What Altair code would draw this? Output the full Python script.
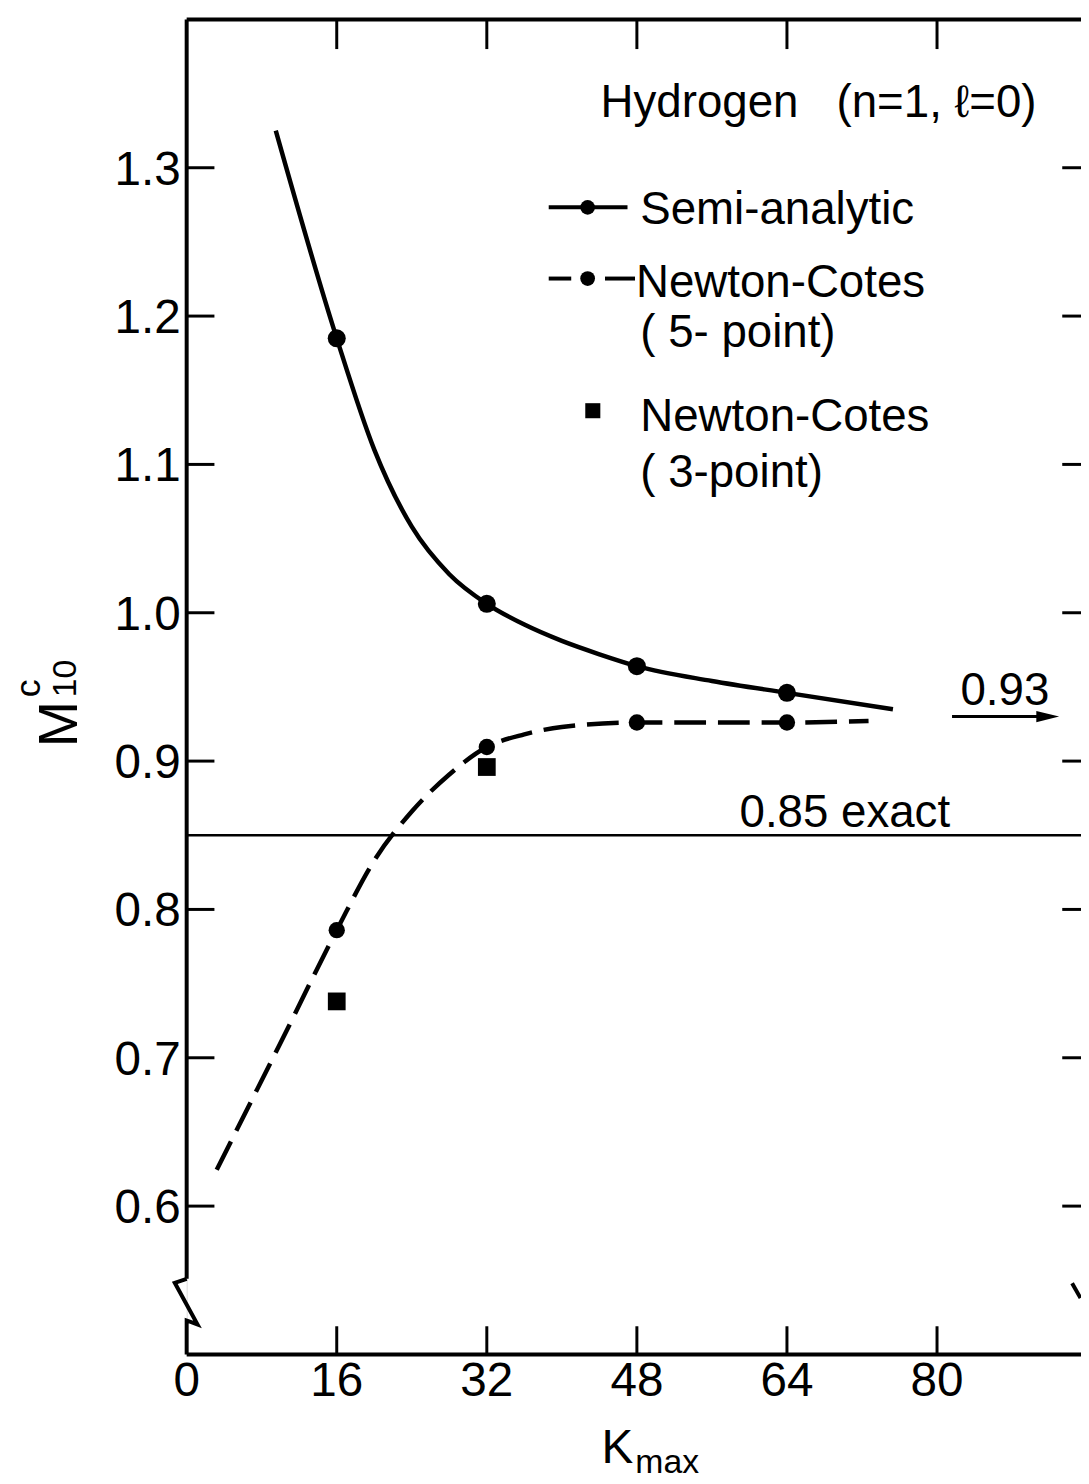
import altair as alt
import pandas as pd

FONT = "Liberation Sans, Arial, DejaVu Sans, sans-serif"

# ---------------- data ----------------
x_ticks = [0, 16, 32, 48, 64, 80]
y_ticks = [0.6, 0.7, 0.8, 0.9, 1.0, 1.1, 1.2, 1.3]

# Semi-analytic (solid line with dots)
semi_k = [16, 32, 48, 64]
semi_m = [1.185, 1.006, 0.964, 0.946]
semi_curve_k = [9.5, 16, 20, 24, 28, 32, 36, 40, 44, 48, 56, 64, 75.3]
semi_curve_m = [1.325, 1.185, 1.110, 1.058, 1.026, 1.006, 0.992, 0.981, 0.972, 0.964, 0.954, 0.946, 0.935]

# Newton-Cotes 5-point (dashed line with dots)
nc5_k = [16, 32, 48, 64]
nc5_m = [0.786, 0.9095, 0.926, 0.926]
nc5_curve_k = [3.2, 10, 16, 20, 24, 28, 32, 36, 40, 48, 64, 72.7]
nc5_curve_m = [0.6245, 0.710, 0.786, 0.833, 0.866, 0.891, 0.9095, 0.918, 0.923, 0.926, 0.926, 0.927]

# Newton-Cotes 3-point (squares)
nc3_k = [16, 32]
nc3_m = [0.738, 0.896]

exact_value = 0.85
limit_value = 0.93

title_text = "Hydrogen\u00a0\u00a0\u00a0(n=1, \u2113=0)"
legend_labels = ["Semi-analytic", "Newton-Cotes", "( 5- point)", "Newton-Cotes", "( 3-point)"]
exact_label = "0.85 exact"
limit_label = "0.93"

# ---------------- layout constants ----------------
XMAX = 95.35
YMIN, YMAX = 0.5, 1.4
W, H = 901, 1345

xs = alt.Scale(domain=[0, XMAX], nice=False, zero=False)
ys = alt.Scale(domain=[YMIN, YMAX], nice=False, zero=False)


def X(f):
    return alt.X(f"{f}:Q", scale=xs, axis=None)


def Y(f):
    return alt.Y(f"{f}:Q", scale=ys, axis=None)


def rules(df, width=4):
    return alt.Chart(df).mark_rule(color="black", strokeWidth=width, strokeCap="butt").encode(
        x=X("x"), x2=alt.X2("x2"), y=Y("y"), y2=alt.Y2("y2")
    )


# ---------------- axes frame ----------------
frame = pd.DataFrame([
    {"x": 0, "x2": XMAX, "y": YMAX, "y2": YMAX},      # top
    {"x": 0, "x2": XMAX, "y": YMIN, "y2": YMIN},      # bottom
    {"x": 0, "x2": 0, "y": 0.551, "y2": YMAX},        # left (above break)
])
frame_layer = rules(frame, 4)

brk = pd.DataFrame({
    "x": [0, 0, 1.16, -1.27, 0],
    "y": [YMIN, 0.5229, 0.5202, 0.5483, 0.5510],
    "o": [0, 1, 2, 3, 4],
})
brk_layer = alt.Chart(brk).mark_line(color="black", strokeWidth=4, strokeJoin="miter").encode(
    x=X("x"), y=Y("y"), order="o:Q"
)
rbrk = pd.DataFrame([{"x": 94.4, "x2": 95.3, "y": 0.548, "y2": 0.538}])
rbrk_layer = rules(rbrk, 4)

tick_rows = []
for v in y_ticks:
    tick_rows.append({"x": 0, "x2": 2.96, "y": v, "y2": v})
    tick_rows.append({"x": XMAX - 2.0, "x2": XMAX, "y": v, "y2": v})
for v in x_ticks[1:]:
    tick_rows.append({"x": v, "x2": v, "y": YMAX, "y2": YMAX - 0.020})
    tick_rows.append({"x": v, "x2": v, "y": YMIN, "y2": YMIN + 0.019})
ticks_layer = rules(pd.DataFrame(tick_rows), 3)

ylab = pd.DataFrame({"x": [0] * len(y_ticks), "y": y_ticks, "t": [f"{v:.1f}" for v in y_ticks]})
ylab_layer = alt.Chart(ylab).mark_text(
    font=FONT, fontSize=48, align="right", baseline="alphabetic", dx=-6, dy=17, color="black"
).encode(x=X("x"), y=Y("y"), text="t:N")

xlab = pd.DataFrame({"x": x_ticks, "y": [YMIN] * len(x_ticks), "t": [str(v) for v in x_ticks]})
xlab_layer = alt.Chart(xlab).mark_text(
    font=FONT, fontSize=48, align="center", baseline="alphabetic", dy=42, color="black"
).encode(x=X("x"), y=Y("y"), text="t:N")

# axis titles (M^c_10 and K_max)
ytitle_layer = (
    alt.Chart(pd.DataFrame({"t": ["M"]})).mark_text(
        font=FONT, fontSize=56, angle=270, align="center", baseline="alphabetic", color="black"
    ).encode(x=alt.value(-110), y=alt.value(710), text="t:N")
    + alt.Chart(pd.DataFrame({"t": ["10"]})).mark_text(
        font=FONT, fontSize=34, angle=270, align="center", baseline="alphabetic", color="black"
    ).encode(x=alt.value(-111), y=alt.value(664), text="t:N")
    + alt.Chart(pd.DataFrame({"t": ["c"]})).mark_text(
        font=FONT, fontSize=36, angle=270, align="center", baseline="alphabetic", color="black"
    ).encode(x=alt.value(-148), y=alt.value(674), text="t:N")
)
xtitle_layer = (
    alt.Chart(pd.DataFrame({"t": ["K"]})).mark_text(
        font=FONT, fontSize=48, align="left", baseline="alphabetic", color="black"
    ).encode(x=alt.value(418), y=alt.value(1454), text="t:N")
    + alt.Chart(pd.DataFrame({"t": ["max"]})).mark_text(
        font=FONT, fontSize=34, align="left", baseline="alphabetic", color="black"
    ).encode(x=alt.value(452), y=alt.value(1464), text="t:N")
)

# ---------------- reference lines ----------------
exact_layer = rules(pd.DataFrame([{"x": 0, "x2": XMAX, "y": exact_value, "y2": exact_value}]), 2.5)
arrow_layer = rules(pd.DataFrame([{"x": 81.6, "x2": 91.0, "y": limit_value, "y2": limit_value}]), 3)
head_layer = alt.Chart(pd.DataFrame({"x": [91.8], "y": [limit_value]})).mark_point(
    shape="M-1,-0.5L1,0L-1,0.5Z", size=529, filled=True, color="black", opacity=1
).encode(x=X("x"), y=Y("y"))

# ---------------- curves & points ----------------
semi_curve = alt.Chart(pd.DataFrame({"k": semi_curve_k, "m": semi_curve_m})).mark_line(
    color="black", strokeWidth=4.5, interpolate="monotone"
).encode(x=X("k"), y=Y("m"))
semi_pts = alt.Chart(pd.DataFrame({"k": semi_k, "m": semi_m})).mark_point(
    shape="circle", filled=True, size=330, color="black", opacity=1
).encode(x=X("k"), y=Y("m"))

nc5_curve = alt.Chart(pd.DataFrame({"k": nc5_curve_k, "m": nc5_curve_m})).mark_line(
    color="black", strokeWidth=4.5, interpolate="monotone", strokeDash=[32, 12]
).encode(x=X("k"), y=Y("m"))
nc5_pts = alt.Chart(pd.DataFrame({"k": nc5_k, "m": nc5_m})).mark_point(
    shape="circle", filled=True, size=270, color="black", opacity=1
).encode(x=X("k"), y=Y("m"))

nc3_pts = alt.Chart(pd.DataFrame({"k": nc3_k, "m": nc3_m})).mark_point(
    shape="square", filled=True, size=320, color="black", opacity=1
).encode(x=X("k"), y=Y("m"))

# ---------------- legend (drawn in data coordinates) ----------------
leg_rules = rules(pd.DataFrame([
    {"x": 38.6, "x2": 47.0, "y": 1.2733, "y2": 1.2733},
    {"x": 38.6, "x2": 41.0, "y": 1.2253, "y2": 1.2253},
    {"x": 44.6, "x2": 47.8, "y": 1.2253, "y2": 1.2253},
]), 4)
leg_dots = alt.Chart(pd.DataFrame({"x": [42.75, 42.75], "y": [1.2733, 1.2253]})).mark_point(
    shape="circle", filled=True, size=220, color="black", opacity=1
).encode(x=X("x"), y=Y("y"))
leg_sq = alt.Chart(pd.DataFrame({"x": [43.3], "y": [1.1362]})).mark_point(
    shape="square", filled=True, size=230, color="black", opacity=1
).encode(x=X("x"), y=Y("y"))

texts = pd.DataFrame({
    "x": [44.13, 48.36, 47.9, 48.36, 48.36, 48.36, 82.5, 58.94],
    "y": [1.3342, 1.262, 1.2131, 1.1790, 1.1228, 1.0850, 0.9376, 0.8553],
    "t": [title_text] + legend_labels + [limit_label, exact_label],
})
text_layer = alt.Chart(texts).mark_text(
    font=FONT, fontSize=46, align="left", baseline="alphabetic", color="black"
).encode(x=X("x"), y=Y("y"), text="t:N")

chart = alt.layer(
    exact_layer, arrow_layer, head_layer,
    frame_layer, brk_layer, rbrk_layer, ticks_layer,
    semi_curve, nc5_curve, semi_pts, nc5_pts, nc3_pts,
    leg_rules, leg_dots, leg_sq, text_layer,
    ylab_layer, xlab_layer, ytitle_layer, xtitle_layer,
).properties(
    width=W, height=H,
    autosize=alt.AutoSizeParams(type="none"),
    padding={"left": 180, "top": 6, "right": 0, "bottom": 120},
).configure_view(stroke=None).configure(background="white")

chart.save("out.html", embed_options={"renderer": "svg", "actions": False})
